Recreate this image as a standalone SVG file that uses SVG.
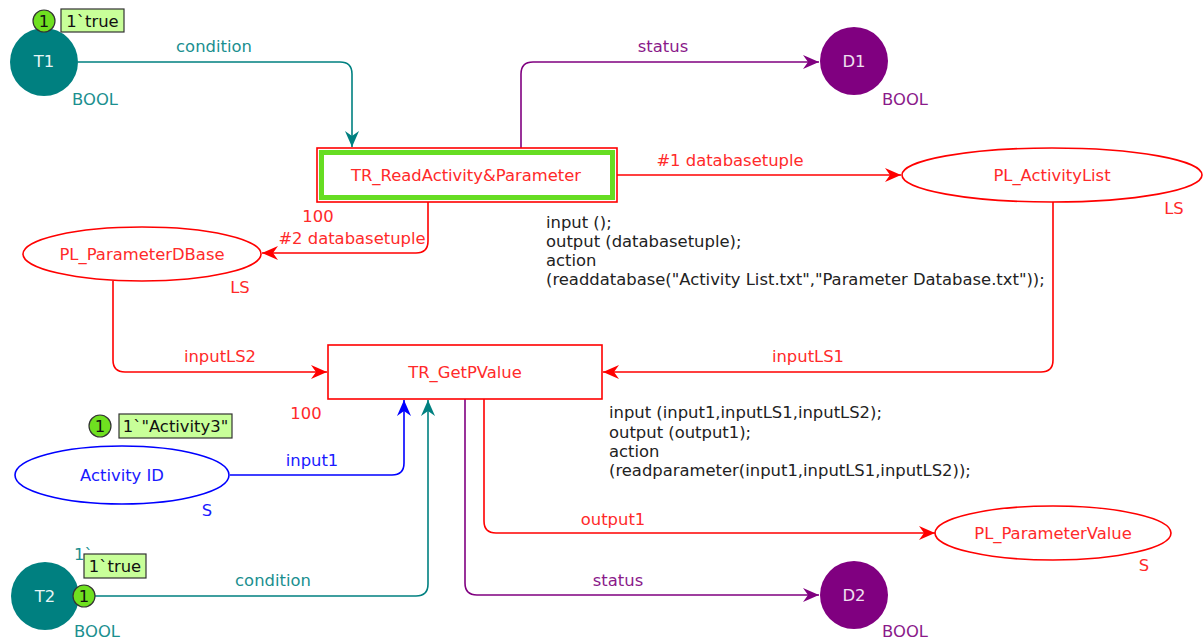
<svg xmlns="http://www.w3.org/2000/svg" width="1203" height="644" viewBox="0 0 1203 644">
<style>
text{font-family:"DejaVu Sans","Liberation Sans",sans-serif;font-size:16.4px}
.c{text-anchor:middle;dominant-baseline:central}
.red{fill:#ff2a2a}
.teal{fill:#1a8f8f}
.pur{fill:#8a1a8a}
.blue{fill:#1a1aff}
.ins{fill:#222}
.arc{fill:none;stroke-width:1.6}
.tok{fill:#6fe020;stroke:#333;stroke-width:1.2}
.tbox{fill:#c8ff99;stroke:#333;stroke-width:1.2}
.tt{fill:#111}
</style>
<defs>
<marker id="ar" viewBox="0 0 16 14" refX="16" refY="7" markerWidth="16" markerHeight="14" markerUnits="userSpaceOnUse" orient="auto"><path d="M0,0 L16,7 L0,14 L5,7 z" fill="#ff0000"/></marker>
<marker id="at" viewBox="0 0 16 14" refX="16" refY="7" markerWidth="16" markerHeight="14" markerUnits="userSpaceOnUse" orient="auto"><path d="M0,0 L16,7 L0,14 L5,7 z" fill="#008080"/></marker>
<marker id="ap" viewBox="0 0 16 14" refX="16" refY="7" markerWidth="16" markerHeight="14" markerUnits="userSpaceOnUse" orient="auto"><path d="M0,0 L16,7 L0,14 L5,7 z" fill="#800080"/></marker>
<marker id="ab" viewBox="0 0 16 14" refX="16" refY="7" markerWidth="16" markerHeight="14" markerUnits="userSpaceOnUse" orient="auto"><path d="M0,0 L16,7 L0,14 L5,7 z" fill="#0000ff"/></marker>
</defs>
<rect width="1203" height="644" fill="#fff"/>
<g id="connectors">
<path class="arc" stroke="#008080" marker-end="url(#at)" d="M78,62 H340 Q352,62 352,74 V147"/>
<text class="c teal" x="214" y="46">condition</text>
<path class="arc" stroke="#800080" marker-end="url(#ap)" d="M521,148 V74 Q521,62 533,62 H819"/>
<text class="c pur" x="663" y="46">status</text>
<path class="arc" stroke="#ff0000" marker-end="url(#ar)" d="M617,175 H901"/>
<text class="c red" x="730" y="160">#1 databasetuple</text>
<path class="arc" stroke="#ff0000" marker-end="url(#ar)" d="M428,202 V241 Q428,253 416,253 H262"/>
<text class="c red" x="318" y="216">100</text>
<text class="c red" x="352" y="238">#2 databasetuple</text>
<path class="arc" stroke="#ff0000" marker-end="url(#ar)" d="M113,281 V360 Q113,372 125,372 H327"/>
<text class="c red" x="220" y="356">inputLS2</text>
<path class="arc" stroke="#ff0000" marker-end="url(#ar)" d="M1053,202 V360 Q1053,372 1041,372 H603"/>
<text class="c red" x="808" y="356">inputLS1</text>
<path class="arc" stroke="#0000ff" marker-end="url(#ab)" d="M230,475 H392 Q404,475 404,463 V400"/>
<text class="c blue" x="312" y="460">input1</text>
<path class="arc" stroke="#008080" marker-end="url(#at)" d="M95,596 H416 Q428,596 428,584 V400"/>
<text class="c teal" x="273" y="580">condition</text>
<path class="arc" stroke="#800080" marker-end="url(#ap)" d="M465,399 V583 Q465,595 477,595 H819"/>
<text class="c pur" x="618" y="580">status</text>
<path class="arc" stroke="#ff0000" marker-end="url(#ar)" d="M484,399 V521 Q484,533 496,533 H935"/>
<text class="c red" x="613" y="519">output1</text>
<text class="c red" x="306" y="413">100</text>
</g>
<g id="T1">
<circle cx="44" cy="62" r="34" fill="#008080"/>
<text class="c" x="44" y="61" fill="#e6f5f5">T1</text>
<text class="c teal" x="95" y="99">BOOL</text>
<circle class="tok" cx="44" cy="21" r="11"/>
<text class="c tt" x="44" y="21">1</text>
<rect class="tbox" x="61" y="9" width="63" height="23"/>
<text class="c tt" x="92.5" y="21">1`true</text>
</g>
<g id="D1">
<circle cx="854" cy="61" r="34" fill="#800080"/>
<text class="c" x="854" y="61" fill="#f0e0f0">D1</text>
<text class="c pur" x="905" y="99">BOOL</text>
</g>
<g id="TR_ReadActivityParameter">
<rect x="317" y="148" width="300" height="54" fill="#fff" stroke="#ff0000" stroke-width="1.6"/>
<rect x="321.5" y="152.5" width="291" height="45" fill="none" stroke="#66dd22" stroke-width="5"/>
<text class="c red" x="466" y="175">TR_ReadActivity&amp;Parameter</text>
<text class="ins" x="546" y="228">input ();</text>
<text class="ins" x="546" y="247">output (databasetuple);</text>
<text class="ins" x="546" y="266">action</text>
<text class="ins" x="546" y="285">(readdatabase("Activity List.txt","Parameter Database.txt"));</text>
</g>
<g id="PL_ActivityList">
<ellipse cx="1052" cy="175" rx="150" ry="27" fill="#fff" stroke="#ff0000" stroke-width="1.6"/>
<text class="c red" x="1052" y="175">PL_ActivityList</text>
<text class="c red" x="1174" y="208">LS</text>
</g>
<g id="PL_ParameterDBase">
<ellipse cx="142" cy="254" rx="119" ry="27" fill="#fff" stroke="#ff0000" stroke-width="1.6"/>
<text class="c red" x="142" y="254">PL_ParameterDBase</text>
<text class="c red" x="240" y="287">LS</text>
</g>
<g id="TR_GetPValue">
<rect x="328" y="345" width="274" height="54" fill="#fff" stroke="#ff0000" stroke-width="1.6"/>
<text class="c red" x="465" y="372">TR_GetPValue</text>
<text class="ins" x="609" y="418">input (input1,inputLS1,inputLS2);</text>
<text class="ins" x="609" y="438">output (output1);</text>
<text class="ins" x="609" y="457">action</text>
<text class="ins" x="609" y="476">(readparameter(input1,inputLS1,inputLS2));</text>
</g>
<g id="ActivityID">
<ellipse cx="122" cy="475" rx="107" ry="29" fill="#fff" stroke="#0000ff" stroke-width="1.6"/>
<text class="c blue" x="122" y="475">Activity ID</text>
<text class="c blue" x="207" y="510">S</text>
<circle class="tok" cx="100" cy="426" r="11"/>
<text class="c tt" x="100" y="426">1</text>
<rect class="tbox" x="119" y="414" width="113" height="24"/>
<text class="c tt" x="175.5" y="426">1`"Activity3"</text>
</g>
<g id="T2">
<circle cx="45" cy="596" r="34" fill="#008080"/>
<text class="c" x="45" y="596" fill="#e6f5f5">T2</text>
<text class="c teal" x="97" y="631">BOOL</text>
<text class="teal" x="74" y="560">1`</text>
<rect class="tbox" x="84" y="554" width="62" height="24"/>
<text class="c tt" x="115" y="566">1`true</text>
<circle class="tok" cx="84" cy="596" r="11"/>
<text class="c tt" x="84" y="596">1</text>
</g>
<g id="D2">
<circle cx="854" cy="595" r="34" fill="#800080"/>
<text class="c" x="854" y="595" fill="#f0e0f0">D2</text>
<text class="c pur" x="905" y="631">BOOL</text>
</g>
<g id="PL_ParameterValue">
<ellipse cx="1053" cy="533" rx="118" ry="27" fill="#fff" stroke="#ff0000" stroke-width="1.6"/>
<text class="c red" x="1053" y="533">PL_ParameterValue</text>
<text class="c red" x="1144" y="565">S</text>
</g>
</svg>
